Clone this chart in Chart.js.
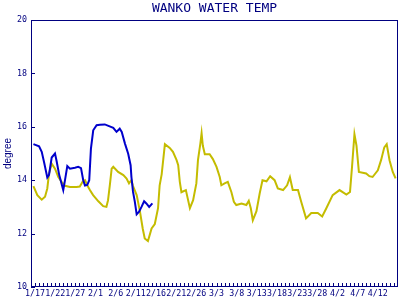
<!DOCTYPE html>
<html>
<head>
<meta charset="utf-8">
<script src="https://cdn.jsdelivr.net/npm/chart.js@4"></script>
<style>
  body { margin: 0; background: #fff; }
</style>
</head>
<body>
<canvas id="tempCanvas" width="400" height="300"></canvas>
<script>
const titleText = 'WANKO WATER TEMP';
const axisColor = '#000080';

// x labels, one every 5 days starting at 1/17 (day 0)
const dateLabels = ['1/17', '1/22', '1/27', '2/1', '2/6', '2/11', '2/16', '2/21', '2/26',
    '3/3', '3/8', '3/13', '3/18', '3/23', '3/28', '4/2', '4/7', '4/12'];

// blue series (days after 1/17, degree)
const blueDays = [-0.4, 1.0, 1.66, 2.23, 3.04, 3.47, 4.13, 4.95, 5.37, 6.0, 7.0, 7.43, 8.0, 8.66,
    9.9, 10.7, 11.4, 11.95, 12.38, 12.95, 13.44, 13.86, 14.43, 15.27, 16.1, 17.3, 19.4, 20.2,
    21.0, 21.5, 22.3, 23.1, 23.7, 23.9, 24.3, 24.75, 25.2, 25.8, 26.4, 27.05, 27.6, 28.3, 29.1];
const blueTemps = [15.35, 15.27, 15.06, 14.68, 14.1, 14.2, 14.85, 15.0, 14.7, 14.19, 13.63, 14.0,
    14.53, 14.43, 14.47, 14.5, 14.45, 14.0, 13.8, 13.82, 14.0, 15.18, 15.87, 16.06, 16.08, 16.09,
    15.96, 15.81, 15.93, 15.81, 15.37, 14.99, 14.56, 14.12, 13.56, 13.19, 12.72, 12.82, 13.0,
    13.21, 13.13, 13.0, 13.13];

// yellow series
const yellowDays = [-0.4, 0.57, 1.66, 2.48, 3.04, 3.47, 4.13, 4.95, 5.77, 6.6, 7.43, 8.66, 10.3,
    11.1, 11.8, 12.4, 12.95, 13.6, 14.4, 15.7, 16.9, 17.7, 18.1, 18.6, 19.0, 19.4, 20.6, 21.9,
    22.7, 23.3, 23.9, 24.3, 25.2, 26.0, 26.7, 27.2, 28.0, 28.9, 29.7, 30.5, 30.9, 31.4, 32.2,
    33.4, 34.2, 35.1, 35.5, 35.9, 36.3, 37.4, 38.4, 39.2, 40.0, 40.4, 41.0, 41.3, 41.6, 42.1,
    43.3, 44.1, 45.0, 45.8, 46.2, 47.0, 47.8, 48.7, 49.3, 49.9, 51.2, 52.4, 53.0, 53.5, 54.0,
    54.9, 55.7, 56.4, 57.4, 58.3, 59.4, 60.2, 61.5, 62.5, 63.2, 63.9, 65.2, 66.0, 67.2, 68.5,
    70.1, 71.2, 72.2, 73.8, 75.5, 77.2, 78.1, 78.6, 79.2, 79.7, 80.3, 82.1, 82.9, 83.7, 85.0,
    85.8, 86.6, 87.2, 87.9, 88.7, 89.4];
const yellowTemps = [13.78, 13.44, 13.27, 13.38, 13.69, 14.25, 14.62, 14.43, 14.12, 13.94, 13.79,
    13.75, 13.75, 13.76, 13.94, 14.0, 13.81, 13.63, 13.44, 13.21, 13.03, 13.0, 13.25, 13.88,
    14.43, 14.5, 14.31, 14.19, 14.06, 13.88, 14.0, 13.78, 13.44, 12.84, 12.19, 11.82, 11.72,
    12.19, 12.36, 12.95, 13.81, 14.22, 15.35, 15.21, 15.06, 14.75, 14.56, 13.94, 13.55, 13.63,
    12.95, 13.25, 13.88, 14.75, 15.38, 15.76, 15.3, 14.97, 14.97, 14.79, 14.5, 14.12, 13.81,
    13.88, 13.94, 13.55, 13.19, 13.07, 13.13, 13.07, 13.23, 12.95, 12.5, 12.84, 13.5, 14.0,
    13.96, 14.15, 14.0, 13.69, 13.63, 13.81, 14.11, 13.63, 13.63, 13.19, 12.57, 12.77, 12.77,
    12.64, 12.94, 13.44, 13.63, 13.46, 13.56, 14.5, 15.72, 15.3, 14.31, 14.25, 14.15, 14.12,
    14.37, 14.75, 15.23, 15.35, 14.75, 14.31, 14.07];

const yTicks = [10, 12, 14, 16, 18, 20];

// box, inward tick marks and title
const frame = {
    id: 'frame',
    afterDraw(chart) {
        const c = chart.ctx;
        const a = chart.chartArea;
        const xs = chart.scales.x;
        const ys = chart.scales.y;
        c.save();
        c.strokeStyle = axisColor;
        c.lineWidth = 1;
        c.strokeRect(a.left + 0.5, a.top + 0.5, a.right - a.left - 1, a.bottom - a.top - 1);
        c.beginPath();
        for (let d = 0; d < dateLabels.length * 5 + 5; d++) {
            const px = Math.round(xs.getPixelForValue(d)) + 0.5;
            if (px >= a.right - 1) break;
            c.moveTo(px, a.bottom);
            c.lineTo(px, a.bottom - 4);
        }
        yTicks.forEach(v => {
            const py = Math.round(ys.getPixelForValue(v)) + 0.5;
            c.moveTo(a.left, py);
            c.lineTo(a.left + 4, py);
        });
        c.stroke();
        c.fillStyle = axisColor;
        c.font = '13px "DejaVu Sans Mono"';
        c.textAlign = 'center';
        c.textBaseline = 'middle';
        c.fillText(titleText, (a.left + a.right) / 2, 8.5);
        c.restore();
    }
};

const ctx = document.getElementById('tempCanvas').getContext('2d');

new Chart(ctx, {
    type: 'line',
    data: {
        datasets: [{
            data: blueDays.map((d, i) => ({ x: d, y: blueTemps[i] })),
            borderColor: '#0000cc',
            borderWidth: 2,
            pointRadius: 0,
            tension: 0
        }, {
            data: yellowDays.map((d, i) => ({ x: d, y: yellowTemps[i] })),
            borderColor: '#c4bc00',
            borderWidth: 2,
            pointRadius: 0,
            tension: 0
        }]
    },
    options: {
        responsive: false,
        animation: false,
        layout: { padding: { top: 20, right: 2, left: 0, bottom: 0 } },
        plugins: {
            legend: { display: false },
            tooltip: { enabled: false }
        },
        scales: {
            x: {
                type: 'linear',
                min: -1,
                max: 90,
                afterFit: s => { s.height = 13; },
                afterBuildTicks: s => {
                    s.ticks = dateLabels.map((_, i) => ({ value: i * 5 }));
                },
                grid: { display: false, drawTicks: false },
                border: { display: false },
                ticks: {
                    autoSkip: false,
                    maxRotation: 0,
                    padding: 2,
                    color: axisColor,
                    font: { family: 'DejaVu Sans Mono', size: 8.3 },
                    callback: function (value) {
                        return dateLabels[value / 5];
                    }
                }
            },
            y: {
                min: 10,
                max: 20,
                afterFit: s => { s.width = 31; },
                afterBuildTicks: s => {
                    s.ticks = yTicks.map(v => ({ value: v }));
                },
                grid: { display: false, drawTicks: false },
                border: { display: false },
                title: {
                    display: true,
                    text: 'degree',
                    color: axisColor,
                    padding: { top: 2, bottom: 0 },
                    font: { family: 'Liberation Sans', size: 10 }
                },
                ticks: {
                    padding: 4,
                    color: axisColor,
                    font: { family: 'DejaVu Sans Mono', size: 8.3 }
                }
            }
        }
    },
    plugins: [frame]
});
</script>
</body>
</html>
